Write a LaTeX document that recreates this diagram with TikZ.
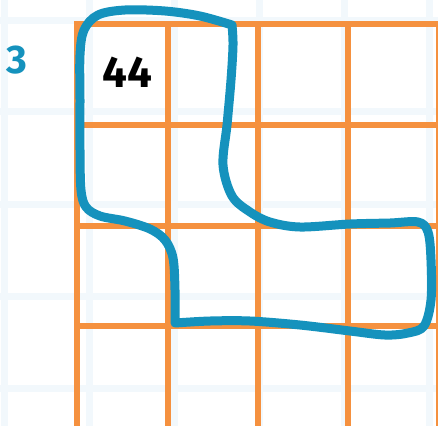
\documentclass[tikz,border=0pt]{standalone}
\usepackage{fontspec}
\setsansfont{Fira Sans}
\definecolor{faint}{HTML}{F2F8FC}
\definecolor{gridor}{HTML}{F5913F}
\definecolor{loopblue}{HTML}{1592BD}
\tikzset{
  bggrid/.style={draw=faint, line width=7pt},
  orgrid/.style={draw=gridor, line width=6pt},
  loopstroke/.style={draw=loopblue, line width=9pt, line join=round, line cap=round},
  numlabel/.style={font=\sffamily\bfseries\fontsize{40}{40}\selectfont, text=loopblue, inner sep=0pt},
  celllabel/.style={font=\sffamily\bfseries\fontsize{44}{44}\selectfont, text=black, inner sep=0pt}
}
\begin{document}
\begin{tikzpicture}[x=1pt, y=-1pt]
\useasboundingbox (0,0) rectangle (438,426);
\fill[white] (0,0) rectangle (438,426);
% faint background grid
\foreach \x in {4,89,174,259,344,429} \draw[bggrid] (\x,0) -- (\x,426);
\foreach \y in {20,111,204,296,388} \draw[bggrid] (0,\y) -- (438,\y);
% orange grid
\foreach \x in {77,168,258,348,439} \draw[orgrid] (\x,21) -- (\x,426);
\foreach \y in {24,125,226,326} \draw[orgrid] (74,\y) -- (438,\y);
% loop
\path[loopstroke]
  plot[smooth, tension=0.55] coordinates {(232,25) (200,16) (165,11) (125,10) (98,15) (84,30) (80,55) (80,100) (80,150) (81,190) (86,207) (100,216) (125,221) (150,229) (165,240) (173,258) (175,290) (175,323)}
  -- plot[smooth, tension=0.55] coordinates {(175,323) (210,321) (250,321) (300,325) (350,331) (385,335) (408,333) (424,326) (431,300) (431,260) (428,232) (418,222) (390,223) (350,224) (300,227) (270,222) (250,212) (232,196) (223,165) (227,125) (231,80) (233,45) (232,25)};
% labels
\node[numlabel] (three) at (17,60) {3};
\node[celllabel] (cellA) at (127,72) {44};
\end{tikzpicture}
\end{document}
